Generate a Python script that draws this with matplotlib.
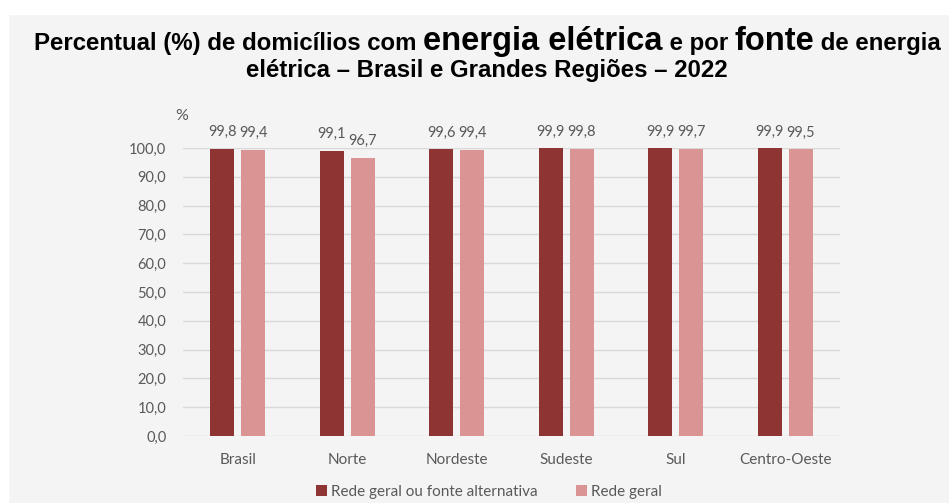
import numpy as np
import matplotlib.pyplot as plt
from matplotlib.patches import Rectangle

regioes = ["Brasil", "Norte", "Nordeste", "Sudeste", "Sul", "Centro-Oeste"]
rede_ou_alt = [99.8, 99.1, 99.6, 99.9, 99.9, 99.9]
rede_geral = [99.4, 96.7, 99.4, 99.8, 99.7, 99.5]
series_nomes = ["Rede geral ou fonte alternativa", "Rede geral"]

cor_escura = "#8e3534"
cor_clara = "#d99493"
cinza_txt = "#595959"
fundo = "#f4f4f4"

corpo = ["Lato", "DejaVu Sans"]
titulo_fonte = ["Liberation Sans", "DejaVu Sans"]

fig = plt.figure(figsize=(9.49, 5.03), dpi=100, facecolor=fundo)
# faixa branca no topo e na esquerda
fig.patches.append(Rectangle((0, 1 - 14 / 503), 1, 14 / 503, transform=fig.transFigure,
                             color="white", zorder=0))
fig.patches.append(Rectangle((0, 0), 8 / 949, 1, transform=fig.transFigure,
                             color="white", zorder=0))

ax = fig.add_axes([183 / 949, 1 - 436 / 503, 657 / 949, 288 / 503])
ax.set_facecolor(fundo)

x = np.arange(len(regioes))
w = 0.22
b1 = ax.bar(x - 0.14, rede_ou_alt, w, color=cor_escura, zorder=3, label=series_nomes[0])
b2 = ax.bar(x + 0.14, rede_geral, w, color=cor_clara, zorder=3, label=series_nomes[1])

def fmt(v):
    return f"{v:.1f}".replace(".", ",")

for barras, vals in ((b1, rede_ou_alt), (b2, rede_geral)):
    for r, v in zip(barras, vals):
        ax.annotate(fmt(v), (r.get_x() + r.get_width() / 2, v), xytext=(0, 7),
                    textcoords="offset points", ha="center", va="bottom",
                    fontsize=10.5, color=cinza_txt, family=corpo, clip_on=False)

ax.set_xlim(-0.5, len(regioes) - 0.5)
ax.set_ylim(0, 100)
ax.set_yticks(np.arange(0, 101, 10))
ax.set_yticklabels([fmt(t) for t in np.arange(0, 101, 10)])
ax.set_xticks(x)
ax.set_xticklabels(regioes)
ax.tick_params(length=0, labelsize=10.5, labelcolor=cinza_txt)
ax.tick_params(axis="x", labelsize=11, pad=12)
ax.tick_params(axis="y", pad=12)
for lab in ax.get_xticklabels() + ax.get_yticklabels():
    lab.set_family(corpo)
ax.grid(axis="y", color="#d9d9d9", linewidth=1, zorder=0)
for s in ax.spines.values():
    s.set_visible(False)

fig.text(182 / 949, 1 - 116 / 503, "%", fontsize=11.5, color=cinza_txt, family=corpo,
         ha="center", va="center")

fig.legend(handles=[b1, b2], loc="center", bbox_to_anchor=(489 / 949, 1 - 492 / 503),
           ncol=2, frameon=False, handlelength=0.7, handleheight=0.7, handletextpad=0.3,
           columnspacing=2.5, prop={"family": corpo, "size": 11}, labelcolor=cinza_txt)

# titulo com trechos de tamanhos diferentes
pequeno, grande = 17.3, 23.5
pedacos = [("Percentual (%) de domicílios com ", pequeno),
           ("energia elétrica", grande),
           (" e por ", pequeno),
           ("fonte", grande),
           (" de energia", pequeno)]
renderer = fig.canvas.get_renderer()
textos = []
for s, tam in pedacos:
    t = fig.text(0, 1 - 50 / 503, s, fontsize=tam, fontweight="bold", family=titulo_fonte,
                 ha="left", va="baseline", color="black")
    textos.append(t)
larguras = [t.get_window_extent(renderer).width for t in textos]
total = sum(larguras)
xpos = 487.5 - total / 2
for t, lw in zip(textos, larguras):
    t.set_x(xpos / 949)
    xpos += lw
fig.text(487 / 949, 1 - 77 / 503, "elétrica – Brasil e Grandes Regiões – 2022", fontsize=pequeno,
         fontweight="bold", family=titulo_fonte, ha="center", va="baseline")

fig.savefig("out.png", dpi=100, facecolor=fundo)
